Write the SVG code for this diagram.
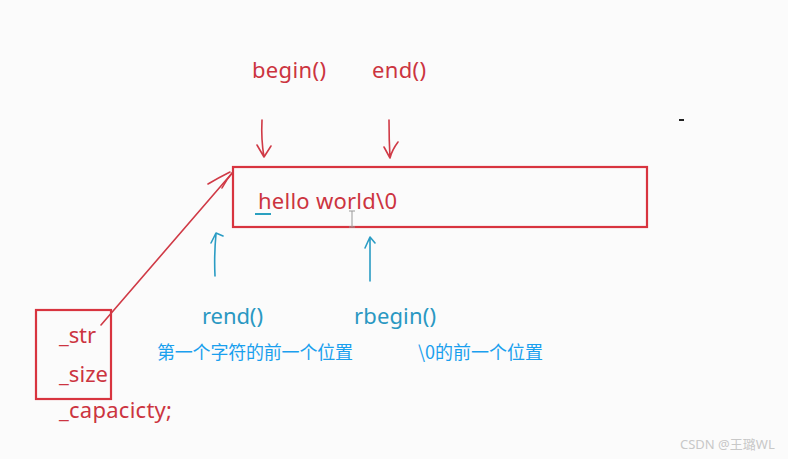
<svg xmlns="http://www.w3.org/2000/svg" width="788" height="459" viewBox="0 0 788 459">
<style>
.r{fill:#cc3440;font-family:"Noto Sans","Open Sans","Noto Sans CJK SC",sans-serif;font-size:22px}
.b{fill:#2a98c2;font-family:"Noto Sans","Open Sans","Noto Sans CJK SC",sans-serif;font-size:22px}
.cn{fill:#1aa0ee;font-family:"Noto Sans CJK SC","Noto Sans",sans-serif;font-size:18px}
.box{fill:none;stroke:#d8343f;stroke-width:2.2}
.ra{fill:none;stroke:#d03a46;stroke-width:1.6;stroke-linecap:round;stroke-linejoin:round}
.ba{fill:none;stroke:#2a9cc4;stroke-width:1.6;stroke-linecap:round;stroke-linejoin:round}
</style>
<rect width="788" height="459" fill="#fbfbfb"/>
<g id="labels-top">
<text class="r" x="252" y="78" textLength="74">begin()</text>
<text class="r" x="372" y="78" textLength="54">end()</text>
</g>
<g id="string-box">
<rect class="box" x="233" y="167" width="414" height="60"/>
<text class="r" x="258" y="209" textLength="139">hello world\0</text>
<line x1="255" y1="214" x2="271" y2="214" stroke="#2aa0c0" stroke-width="2"/>
<path d="M349 211h6M352 211v16M349 227h6" stroke="#999" stroke-width="1" fill="none"/>
</g>
<g id="members">
<rect class="box" x="36" y="310" width="75" height="89"/>
<text class="r" x="59" y="343" textLength="37">_str</text>
<text class="r" x="59" y="382" textLength="49">_size</text>
<text class="r" x="59" y="418" textLength="113">_capacicty;</text>
</g>
<g id="labels-bottom">
<text class="b" x="202" y="324" textLength="61">rend()</text>
<text class="b" x="354" y="324" textLength="82">rbegin()</text>
<text class="cn" x="157" y="359" textLength="196">第一个字符的前一个位置</text>
<text class="cn" x="418" y="359" textLength="125">\0的前一个位置</text>
</g>
<g id="connectors">
<path class="ra" d="M101 325L233 172"/>
<path class="ra" d="M208 184Q218 178 230 172M222 188Q226 180 233 172"/>
<path class="ra" d="M262 120Q261 140 264 157M257 145L264 157L271 146"/>
<path class="ra" d="M389 120Q389 140 390 158M384 147L390 158M390 158Q392 150 398 142"/>
<path class="ba" d="M215 276Q214 255 216 234M211 243L216 233L223 236"/>
<path class="ba" d="M370 281L370 237M365 248L370 237L375 243"/>
</g>
<rect x="679" y="119" width="5" height="2" fill="#222"/>
<text x="680" y="449" fill="#c8c8c8" font-family="Noto Sans,Noto Sans CJK SC,sans-serif" font-size="13">CSDN @王璐WL</text>
</svg>
